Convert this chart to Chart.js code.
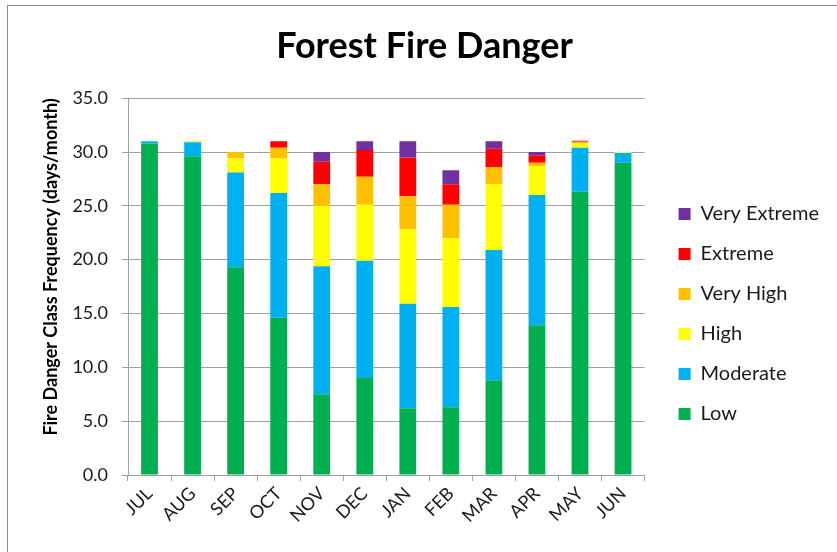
<!DOCTYPE html>
<html>
<head>
<meta charset="utf-8">
<script src="https://cdn.jsdelivr.net/npm/chart.js@4"></script>
<style>
  html, body { margin: 0; padding: 0; background: #fff; overflow: hidden; }
  #frame { position: absolute; left: 7px; top: 5px; width: 900px; height: 600px;
           border-left: 1.5px solid #8c8c8c; border-top: 1.5px solid #8c8c8c; }
  #c { position: absolute; left: 0; top: 0; }
</style>
</head>
<body>
<div id="frame"></div>
<canvas id="c" width="837" height="552"></canvas>
<script>
// Months of the fire season (July to June)
const months = ['JUL','AUG','SEP','OCT','NOV','DEC','JAN','FEB','MAR','APR','MAY','JUN'];

// Days per month in each fire danger class
const low         = [30.8, 29.6, 19.3, 14.6,  7.5,  9.0,  6.2,  6.3,  8.8, 13.9, 26.3, 29.0];
const moderate    = [ 0.2,  1.3,  8.8, 11.6, 11.9, 10.9,  9.7,  9.3, 12.1, 12.1,  4.1,  0.9];
const high        = [ 0.0,  0.1,  1.3,  3.2,  5.6,  5.2,  6.9,  6.4,  6.1,  2.7,  0.4,  0.1];
const veryHigh    = [ 0.0,  0.0,  0.6,  1.0,  2.0,  2.6,  3.1,  3.1,  1.6,  0.3,  0.15, 0.0];
const extreme     = [ 0.0,  0.0,  0.0,  0.6,  2.1,  2.5,  3.6,  1.9,  1.7,  0.7,  0.1,  0.0];
const veryExtreme = [ 0.0,  0.0,  0.0,  0.0,  0.9,  0.8,  1.5,  1.3,  0.7,  0.3,  0.0,  0.0];

// Y-axis tick values
const yTicks = [0, 5, 10, 15, 20, 25, 30, 35];

const FONT = 'Lato, "Open Sans", sans-serif';
const TEXT = '#1a1a1a';
const GRID = '#a0a0a0';

const classes = [
  { label: 'Low',          data: low,         color: '#00B050' },
  { label: 'Moderate',     data: moderate,    color: '#00B0F0' },
  { label: 'High',         data: high,        color: '#FFFF00' },
  { label: 'Very High',    data: veryHigh,    color: '#FFC000' },
  { label: 'Extreme',      data: extreme,     color: '#FF0000' },
  { label: 'Very Extreme', data: veryExtreme, color: '#7030A0' }
];

// Nudges the title and legend boxes after layout
const nudge = {
  id: 'nudge',
  afterLayout(chart) {
    const t = chart.titleBlock, l = chart.legend;
    if (t) { t.left += 17; t.right += 17; }
    if (l) { l.left += 14; l.right += 14; l.top += 50; l.bottom += 50; }
  }
};

new Chart(document.getElementById('c'), {
  type: 'bar',
  data: {
    labels: months,
    datasets: classes.map(c => ({
      label: c.label,
      data: c.data,
      backgroundColor: c.color,
      borderWidth: 0,
      barPercentage: 0.39,
      categoryPercentage: 1.0
    }))
  },
  plugins: [nudge],
  options: {
    responsive: false,
    animation: false,
    layout: { padding: { left: 0, right: 22, top: 0, bottom: 24 } },
    plugins: {
      title: {
        display: true,
        text: 'Forest Fire Danger',
        color: '#000',
        font: { family: FONT, size: 36, weight: 'bold' },
        padding: { top: 25, bottom: 30 }
      },
      legend: {
        position: 'right',
        reverse: true,
        labels: {
          color: TEXT,
          font: { family: FONT, size: 20 },
          boxWidth: 12,
          boxHeight: 12,
          padding: 20
        }
      },
      tooltip: { enabled: false }
    },
    scales: {
      x: {
        stacked: true,
        grid: {
          offset: true,
          drawOnChartArea: false,
          drawTicks: true,
          tickLength: 6,
          color: GRID
        },
        border: { display: true, color: GRID, width: 1 },
        ticks: {
          color: TEXT,
          font: { family: FONT, size: 18 },
          minRotation: 45,
          maxRotation: 45,
          padding: 2
        },
        afterFit: s => { s.height = 53; }
      },
      y: {
        stacked: true,
        min: 0,
        max: 35,
        afterBuildTicks: s => { s.ticks = yTicks.map(v => ({ value: v })); },
        grid: {
          color: GRID,
          drawTicks: true,
          tickLength: 6
        },
        border: { display: true, color: GRID, width: 1 },
        ticks: {
          color: TEXT,
          font: { family: FONT, size: 18 },
          padding: 14,
          callback: v => Number(v).toFixed(1)
        },
        title: {
          display: true,
          text: 'Fire Danger Class Frequency (days/month)',
          align: 'end',
          color: '#000',
          font: { family: FONT, size: 18, weight: 'bold' },
          padding: { top: 40, bottom: 0 }
        },
        afterFit: s => { s.width = 128; }
      }
    }
  }
});
</script>
</body>
</html>
